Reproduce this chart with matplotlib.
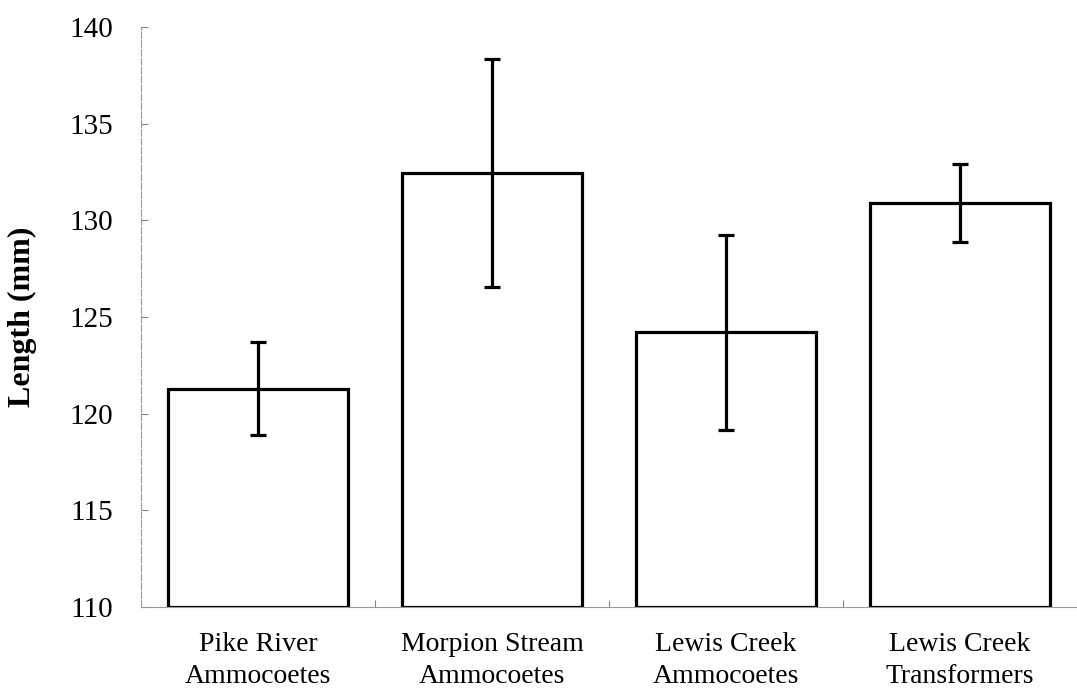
import matplotlib
matplotlib.use("Agg")
import matplotlib.pyplot as plt
import numpy as np

categories = ["Pike River\nAmmocoetes", "Morpion Stream\nAmmocoetes",
              "Lewis Creek\nAmmocoetes", "Lewis Creek\nTransformers"]
means = [121.3, 132.45, 124.2, 130.9]
errors = [2.4, 5.9, 5.05, 2.0]
yticks = [110, 115, 120, 125, 130, 135, 140]

plt.rcParams['font.family'] = ['Liberation Serif', 'DejaVu Serif']

fig = plt.figure(figsize=(10.77, 6.96), dpi=100)
ax = fig.add_axes([141/1077, (696-607)/696, 1 - 141/1077, (607-27)/696])

x = np.arange(len(categories))
ax.bar(x, np.array(means) - 110, bottom=110, width=0.773, color='white',
       edgecolor='black', linewidth=2.3, zorder=2)
ax.errorbar(x, means, yerr=errors, fmt='none', ecolor='black', elinewidth=2.3,
            capsize=6, capthick=2.3, zorder=3)

ax.set_xlim(-0.5, 3.475)
ax.set_ylim(110, 140)
ax.set_yticks(yticks)
ax.set_yticklabels([str(t) for t in yticks], fontsize=21)
ax.set_xticks(x)
ax.set_xticklabels(categories, fontsize=20, linespacing=1.38)
ax.set_xticks(np.arange(-0.5, 3.6, 1.0)[1:], minor=True)

ax.tick_params(axis='x', which='major', length=0, pad=18)
ax.tick_params(axis='x', which='minor', length=5, direction='in', color='#888888', width=0.8)
ax.tick_params(axis='y', which='major', length=5, direction='in', color='#888888', width=0.8, pad=20)

for s in ['top', 'right']:
    ax.spines[s].set_visible(False)
for s in ['left', 'bottom']:
    ax.spines[s].set_color('#999999')
    ax.spines[s].set_linewidth(0.8)
ax.spines['left'].set_linestyle((0, (6, 2)))

ax.set_ylabel("Length (mm)", fontsize=23, fontweight='bold')
ax.yaxis.set_label_coords(-104/936, 0.5)

fig.savefig("out.png", dpi=100)
